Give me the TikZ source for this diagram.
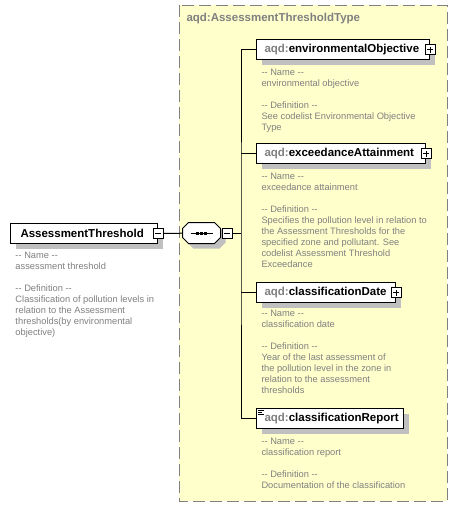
\documentclass[tikz,border=0pt]{standalone}
\usepackage{fontspec}
\setmainfont{Liberation Sans}
\usetikzlibrary{positioning, shadows}
\definecolor{typefill}{HTML}{FFFFCC}
\definecolor{typeborder}{HTML}{808080}
\definecolor{annogray}{HTML}{808080}
\definecolor{shadowgray}{HTML}{C0C0C0}
\newcommand{\aqdprefix}{\textcolor{annogray}{aqd:}}

\begin{document}
\begin{tikzpicture}[
        x=1pt, y=-1pt,
        line width=1pt,
        boxshadow/.style={drop shadow={shadow xshift=5pt, shadow yshift=-5pt,
            fill=shadowgray, opacity=1}},
        elem/.style={draw, fill=white, anchor=north west, minimum height=20pt,
            inner xsep=8pt, inner ysep=0pt, align=left, boxshadow,
            font=\fontsize{11.5}{12}\selectfont\bfseries},
        anno/.style={inner sep=0pt, align=left, text=annogray,
            font=\fontsize{9.3}{11}\selectfont},
        expander/.style={draw, fill=white, minimum size=10pt, inner sep=0pt},
        plusbox/.style={expander, path picture={
            \draw[line width=1pt] ([xshift=-3pt]path picture bounding box.center)
                -- ([xshift=3pt]path picture bounding box.center);
            \draw[line width=1pt] ([yshift=-3pt]path picture bounding box.center)
                -- ([yshift=3pt]path picture bounding box.center);}},
        minusbox/.style={expander, path picture={
            \draw[line width=1pt] ([xshift=-3pt]path picture bounding box.center)
                -- ([xshift=3pt]path picture bounding box.center);}},
        seqbox/.style={minimum width=37pt, minimum height=20pt, inner sep=0pt}
    ]
    \useasboundingbox[fill=white] (0,0) rectangle (458,507);

    % complex type
    \draw[typeborder, fill=typefill, dash pattern=on 12pt off 5pt] (179,5) rectangle (447,501);
    \node[anchor=west, inner sep=0pt, text=annogray, font=\fontsize{11.5}{12}\selectfont\bfseries]
        (typetitle) at (186,19) {aqd:AssessmentThresholdType};

    % root element
    \node[elem, text width=127pt, inner xsep=10pt] (assess) at (10,223) {AssessmentThreshold};
    \node[minusbox] (assessminus) at (assess.east) {};
    \node[anno, below right=7.7pt and 5pt of assess.south west] (assessanno)
        {-{}- Name -{}-\\assessment threshold\\[11pt]-{}- Definition -{}-\\Classification of pollution levels in\\relation to the Assessment\\thresholds(by environmental\\objective)};

    % sequence
    \node[seqbox] (seq) at (201.5,233) {};
    \draw[fill=white, boxshadow]
        ([xshift=6pt]seq.north west) -- ([xshift=-6pt]seq.north east)
        -- ([yshift=-6pt]seq.north east) -- ([yshift=6pt]seq.south east)
        -- ([xshift=-6pt]seq.south east) -- ([xshift=6pt]seq.south west)
        -- ([yshift=6pt]seq.south west) -- ([yshift=-6pt]seq.north west) -- cycle;
    \draw ([xshift=-11pt]seq.center) -- ([xshift=11pt]seq.center);
    \foreach \dx in {-4,0,4}
        \fill ([xshift=\dx pt]seq.center) ++(-1.5,-1.5) rectangle ++(3,3);
    \node[minusbox, right=1pt of seq] (seqminus) {};
    \coordinate (bus) at (241,233);

    % child elements
    \node[elem, text width=157pt] (envobj) at (256,39) {\aqdprefix environmentalObjective};
    \node[plusbox] (envplus) at (envobj.east) {};
    \node[anno, below right=8.7pt and 5pt of envobj.south west] (envanno)
        {-{}- Name -{}-\\environmental objective\\[11pt]-{}- Definition -{}-\\See codelist Environmental Objective\\Type};

    \node[elem, text width=153pt] (exceed) at (256,143) {\aqdprefix exceedanceAttainment};
    \node[plusbox] (exceedplus) at (exceed.east) {};
    \node[anno, below right=8.7pt and 5pt of exceed.south west] (exceedanno)
        {-{}- Name -{}-\\exceedance attainment\\[11pt]-{}- Definition -{}-\\Specifies the pollution level in relation to\\the Assessment Thresholds for the\\specified zone and pollutant. See\\codelist Assessment Threshold\\Exceedance};

    \node[elem, text width=123pt] (classdate) at (256,282) {\aqdprefix classificationDate};
    \node[plusbox] (classdateplus) at (classdate.east) {};
    \node[anno, below right=6.7pt and 5pt of classdate.south west] (classdateanno)
        {-{}- Name -{}-\\classification date\\[11pt]-{}- Definition -{}-\\Year of the last assessment of\\the pollution level in the zone in\\relation to the assessment\\thresholds};

    \node[elem, text width=131pt] (classreport) at (256,408) {\aqdprefix classificationReport};
    \foreach \dy/\len in {2/6, 4/4, 6/6}
        \draw[line width=0.8pt] ([xshift=2pt, yshift=-\dy pt]classreport.north west) -- ++(\len,0);
    \node[anno, below right=8.7pt and 5pt of classreport.south west] (classreportanno)
        {-{}- Name -{}-\\classification report\\[11pt]-{}- Definition -{}-\\Documentation of the classification};

    % connectors
    \draw (assessminus) -- (seq);
    \draw (seqminus.east) -- (bus);
    \draw (envobj.west) -| (bus) |- (classreport.west);
    \draw (exceed.west) -- (exceed.west -| bus);
    \draw (classdate.west) -- (classdate.west -| bus);
\end{tikzpicture}
\end{document}
